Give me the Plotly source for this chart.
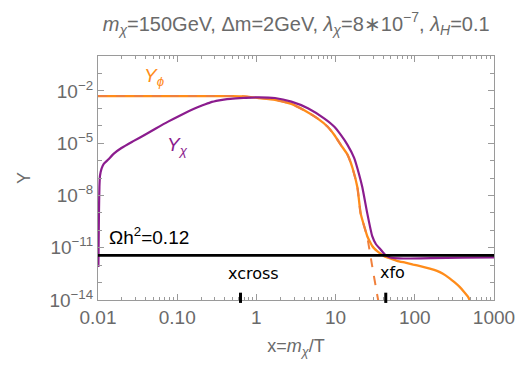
import plotly.graph_objects as go

# ---- data, stored as log10 values ----
lx_phi = [-2.0, -1.0, -0.3, -0.16, 0.025, 0.234, 0.441, 0.609, 0.775, 0.9, 0.984, 1.066, 1.15,
          1.2125, 1.275, 1.316, 1.36, 1.4, 1.44, 1.4625, 1.49, 1.525, 1.609, 1.7, 1.775, 1.88, 1.98,
          2.08, 2.19, 2.28, 2.35, 2.44, 2.5, 2.566, 2.62, 2.671, 2.71]
ly_phi = [-2.30, -2.30, -2.30, -2.32, -2.41, -2.51, -2.75, -3.13, -3.595, -4.06, -4.53, -5.10, -5.66,
          -6.41, -7.53, -9.03, -9.75, -10.34, -10.72, -10.9, -11.05, -11.19, -11.47, -11.63, -11.75,
          -11.86, -11.97, -12.07, -12.2, -12.33, -12.48, -12.76, -12.98, -13.25, -13.52, -13.81, -14.17]

lx_eq = [-2.0, -1.0, -0.3, -0.16, 0.025, 0.234, 0.441, 0.609, 0.775, 0.9, 0.984, 1.066, 1.15,
         1.2125, 1.275, 1.316, 1.36, 1.4, 1.46, 1.525, 1.55]
ly_eq = [-2.30, -2.30, -2.30, -2.32, -2.41, -2.51, -2.75, -3.13, -3.595, -4.06, -4.53, -5.10, -5.66,
         -6.41, -7.53, -9.03, -9.75, -10.4, -12.0, -13.7, -14.3]

lx_chi = [-1.995, -1.988, -1.982, -1.975, -1.954, -1.925, -1.871, -1.8, -1.704, -1.56, -1.4125,
          -1.27, -1.121, -0.95, -0.7875, -0.68, -0.579, -0.47, -0.371, -0.26, -0.1625, 0.025, 0.234,
          0.441, 0.65, 0.859, 0.984, 1.066, 1.15, 1.234, 1.296, 1.3375, 1.4, 1.4625, 1.51, 1.566,
          1.62, 1.6875, 1.8, 1.94, 2.2, 2.6, 3.0]
ly_chi = [-12.1, -9.0, -7.5, -6.87, -6.45, -6.18, -5.94, -5.6, -5.28, -4.9, -4.53,
          -4.16, -3.78, -3.38, -3.03, -2.83, -2.66, -2.55, -2.47, -2.43, -2.41, -2.37, -2.41,
          -2.62, -3.0, -3.595, -4.06, -4.53, -5.10, -5.845, -6.78, -7.53, -9.03, -10.34, -10.8, -11.09,
          -11.38, -11.56, -11.61, -11.62, -11.6, -11.57, -11.56]

omega_ly = -11.44
x_marks = [0.63, 43.0]
mark_labels = ["xcross", "xfo"]

title_txt = ("<i>m</i><sub><i>χ</i></sub>=150GeV, Δm=2GeV, <i>λ</i><sub><i>χ</i></sub>=8∗10<sup>−7</sup>, "
             "<i>λ</i><sub><i>H</i></sub>=0.1")

x_major = [0.01, 0.1, 1, 10, 100, 1000]
x_major_txt = ["0.01", "0.10", "1", "10", "100", "1000"]
y_major = [1e-2, 1e-5, 1e-8, 1e-11, 1e-14]
y_major_txt = ["10<sup>−2</sup>", "10<sup>−5</sup>", "10<sup>−8</sup>", "10<sup>−11</sup>", "10<sup>−14</sup>"]

ORANGE = "#FF8C1A"
EQ = "#F0803C"
PURPLE = "#8B1C8E"
GRAY = "#6A6A6A"
AX = "#9A9A9A"

x_minor = [m * 10 ** e for e in range(-2, 3) for m in range(2, 10)]
y_minor = [10.0 ** e for e in range(-14, 1) if e not in (-2, -5, -8, -11, -14)]


def p10(v):
    return [10.0 ** t for t in v]


fig = go.Figure()
fig.add_trace(go.Scatter(x=p10(lx_phi), y=p10(ly_phi), mode="lines",
                         line=dict(color=ORANGE, width=2.3, shape="spline", smoothing=0.5), showlegend=False))
fig.add_trace(go.Scatter(x=p10(lx_eq), y=p10(ly_eq), mode="lines",
                         line=dict(color=EQ, width=2, dash="dash", shape="spline", smoothing=0.5), showlegend=False))
fig.add_trace(go.Scatter(x=p10(lx_chi), y=p10(ly_chi), mode="lines",
                         line=dict(color=PURPLE, width=2.2, shape="spline", smoothing=0.5), showlegend=False))
fig.add_trace(go.Scatter(x=[0.01, 1000], y=p10([omega_ly, omega_ly]), mode="lines",
                         line=dict(color="black", width=2.6), showlegend=False))

# handwritten-style marks
for xm in x_marks:
    fig.add_shape(type="line", xref="x", yref="paper", x0=xm, x1=xm, y0=-0.012, y1=0.03,
                  line=dict(color="black", width=3))
fig.add_annotation(x=-0.0375, y=-12.48, text=mark_labels[0], showarrow=False,
                   font=dict(size=16, color="black", family="DejaVu Sans"), xanchor="center", yanchor="middle")
fig.add_annotation(x=1.7125, y=-12.43, text=mark_labels[1], showarrow=False,
                   font=dict(size=16, color="black", family="DejaVu Sans"), xanchor="center", yanchor="middle")

fig.add_annotation(x=-1.2875, y=-1.18, text="<i>Y</i><sub><i>ϕ</i></sub>", showarrow=False,
                   font=dict(size=19, color=ORANGE), xanchor="center", yanchor="middle")
fig.add_annotation(x=-1.0, y=-5.17, text="<i>Y</i><sub><i>χ</i></sub>", showarrow=False,
                   font=dict(size=19, color=PURPLE), xanchor="center", yanchor="middle")
fig.add_annotation(x=-1.8875, y=-10.34, text="Ωh<sup>2</sup>=0.12", showarrow=False,
                   font=dict(size=19, color="black"), xanchor="left", yanchor="middle")

fig.update_layout(
    width=527, height=365,
    margin=dict(l=98, r=29, t=56, b=60),
    paper_bgcolor="white", plot_bgcolor="white",
    font=dict(family="Liberation Sans, Arial", color=GRAY, size=18),
    title=dict(text=title_txt, x=0.562, xanchor="center", y=0.935, yanchor="middle",
               font=dict(size=20, color=GRAY)),
)
fig.update_xaxes(type="log", range=[-2, 3], showgrid=False, zeroline=False,
                 showline=True, linecolor=AX, linewidth=1.2, mirror="ticks",
                 ticks="inside", ticklen=6, tickcolor=AX,
                 tickvals=x_major, ticktext=x_major_txt, tickfont=dict(size=19, color=GRAY),
                 minor=dict(tickvals=x_minor, ticks="inside", ticklen=3, tickcolor=AX),
                 title=dict(text="x=<i>m</i><sub><i>χ</i></sub>/T", font=dict(size=18, color=GRAY), standoff=12))
fig.update_yaxes(type="log", range=[-14, 0], showgrid=False, zeroline=False,
                 showline=True, linecolor=AX, linewidth=1.2, mirror="ticks",
                 ticks="inside", ticklen=6, tickcolor=AX,
                 tickvals=y_major, ticktext=y_major_txt, tickfont=dict(size=19, color=GRAY),
                 minor=dict(tickvals=y_minor, ticks="inside", ticklen=4, tickcolor=AX),
                 title=dict(text="Y", font=dict(size=18, color=GRAY), standoff=14))

fig.write_html("out.html")
